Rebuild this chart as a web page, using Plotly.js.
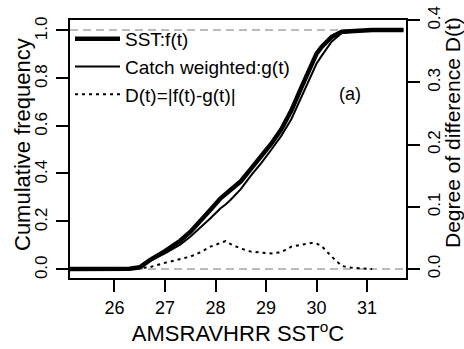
<!DOCTYPE html>
<html>
<head>
<meta charset="utf-8">
<script src="https://cdn.plot.ly/plotly-3.0.1.min.js"></script>
<style>html,body{margin:0;padding:0;background:#fff;} #chart{width:464px;height:349px;}</style>
</head>
<body>
<div id="chart"></div>
<script>
// SST values (deg C)
var sst = [25.12, 26.0, 26.3, 26.5, 26.7, 27.0, 27.3, 27.5, 27.7, 27.9, 28.1, 28.2, 28.3, 28.5, 28.7, 28.9, 29.1, 29.3, 29.5, 29.7, 29.9, 30.0, 30.1, 30.3, 30.5, 30.7, 30.9, 31.1, 31.3, 31.5, 31.72];
// SST cumulative frequency f(t)
var fT = [0, 0, 0.001, 0.007, 0.037, 0.075, 0.118, 0.155, 0.199, 0.248, 0.296, 0.315, 0.330, 0.367, 0.419, 0.469, 0.523, 0.584, 0.663, 0.760, 0.861, 0.901, 0.929, 0.972, 0.993, 0.996, 0.998, 1.0, 1.0, 1.0, 1.0];
// Catch weighted cumulative frequency g(t)
var gT = [0, 0, 0.001, 0.006, 0.034, 0.065, 0.102, 0.135, 0.172, 0.212, 0.254, 0.270, 0.290, 0.334, 0.391, 0.442, 0.498, 0.557, 0.627, 0.721, 0.819, 0.860, 0.892, 0.952, 0.988, 0.994, 0.997, 1.0, 1.0, 1.0, 1.0];
// Degree of difference D(t) = |f(t)-g(t)|
var dSst = [26.3, 26.5, 26.7, 27.0, 27.3, 27.5, 27.7, 27.9, 28.1, 28.2, 28.3, 28.5, 28.7, 28.9, 29.1, 29.3, 29.5, 29.7, 29.9, 30.0, 30.1, 30.3, 30.5, 30.7, 30.9, 31.1];
var dT = [0, 0.001, 0.003, 0.010, 0.016, 0.020, 0.027, 0.036, 0.042, 0.045, 0.040, 0.033, 0.028, 0.027, 0.025, 0.027, 0.036, 0.039, 0.042, 0.041, 0.037, 0.020, 0.005, 0.002, 0.001, 0];

var xTicks = [26, 27, 28, 29, 30, 31];
var yTicks = [0, 0.2, 0.4, 0.6, 0.8, 1.0];
var y2Ticks = [0, 0.1, 0.2, 0.3, 0.4];
var legendNames = ['SST:f(t)', 'Catch weighted:g(t)', 'D(t)=|f(t)-g(t)|'];

var FONT = 'Liberation Sans, Arial, sans-serif';

var traces = [
  {x: sst, y: fT, type: 'scatter', mode: 'lines', name: legendNames[0],
   line: {color: '#000', width: 4.5}},
  {x: sst, y: gT, type: 'scatter', mode: 'lines', name: legendNames[1],
   line: {color: '#000', width: 2}},
  {x: dSst, y: dT, type: 'scatter', mode: 'lines', name: legendNames[2], yaxis: 'y2',
   line: {color: '#000', width: 2, dash: '3px,4px'}}
];

var annotations = [
  {text: '(a)', xref: 'paper', yref: 'paper', x: (363 - 70) / 336, y: (278 - 82) / 258,
   showarrow: false, font: {size: 18}},
  {text: 'Cumulative frequency', xref: 'paper', yref: 'paper', x: (22 - 70) / 336, y: (278 - 145) / 258,
   xanchor: 'center', yanchor: 'middle', textangle: -90, showarrow: false, font: {size: 22}},
  {text: 'Degree of difference D(t)', xref: 'paper', yref: 'paper', x: (452 - 70) / 336, y: (278 - 133) / 258,
   xanchor: 'center', yanchor: 'middle', textangle: -90, showarrow: false, font: {size: 21}}
];

var layout = {
  width: 464, height: 349,
  margin: {l: 70, r: 58, t: 20, b: 71},
  paper_bgcolor: '#fff', plot_bgcolor: '#fff',
  font: {family: FONT, color: '#000', size: 18},
  showlegend: true,
  legend: {x: 0, y: 1, xanchor: 'left', yanchor: 'top', xref: 'paper', yref: 'paper',
           bgcolor: 'rgba(0,0,0,0)', borderwidth: 0, itemwidth: 45,
           font: {family: FONT, size: 19, color: '#000'}, tracegroupgap: 0},
  xaxis: {range: [25.12, 31.77], tickvals: xTicks, ticktext: xTicks.map(String),
          showgrid: false, zeroline: false, showline: true, mirror: true,
          linecolor: '#000', linewidth: 2, ticks: 'outside', ticklen: 12, tickwidth: 2, tickcolor: '#000',
          tickfont: {size: 18}, title: {text: 'AMSRAVHRR SST<sup>o</sup>C', font: {size: 22}, standoff: 4}},
  yaxis: {range: [-0.0377, 1.042], tickvals: yTicks, ticktext: yTicks.map(function(v){return v.toFixed(1);}),
          tickangle: -89.99, ticklabelstandoff: 14, ticklabelshift: -11,
          showgrid: false, zeroline: false, showline: true,
          linecolor: '#000', linewidth: 2, ticks: 'outside', ticklen: 12, tickwidth: 2, tickcolor: '#000',
          tickfont: {size: 17}},
  yaxis2: {range: [-0.0144, 0.4005], overlaying: 'y', side: 'right', tickvals: y2Ticks,
           ticktext: y2Ticks.map(function(v){return v.toFixed(1);}),
           tickangle: 270, showgrid: false, zeroline: false, showline: true,
           linecolor: '#000', linewidth: 2, ticks: 'outside', ticklen: 12, tickwidth: 2, tickcolor: '#000',
           tickfont: {size: 17}},
  shapes: [
    {type: 'line', xref: 'paper', yref: 'y', x0: 0, x1: 1, y0: 0, y1: 0,
     line: {color: '#bbbbbb', width: 2, dash: '8px,5px'}, layer: 'below'},
    {type: 'line', xref: 'paper', yref: 'y', x0: 0, x1: 1, y0: 1, y1: 1,
     line: {color: '#bbbbbb', width: 2, dash: '8px,5px'}, layer: 'below'}
  ],
  annotations: annotations
};

Plotly.newPlot('chart', traces, layout, {displayModeBar: false, staticPlot: true});
</script>
</body>
</html>
